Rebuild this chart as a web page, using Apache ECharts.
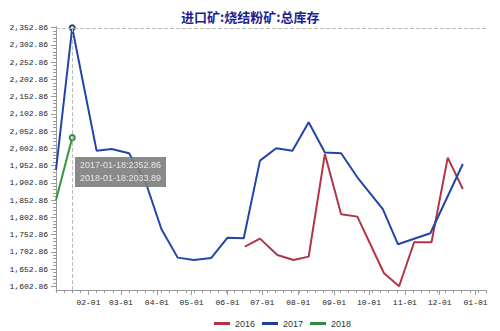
<!DOCTYPE html>
<html>
<head>
<meta charset="utf-8">
<script src="https://cdn.jsdelivr.net/npm/echarts@6/dist/echarts.min.js"></script>
<style>html,body{margin:0;padding:0;background:#fff}#c{width:500px;height:331px}</style>
</head>
<body>
<div id="c"></div>
<script>
const TITLE = '进口矿:烧结粉矿:总库存';
const YEARS = ['2016', '2017', '2018'];
const COLORS = ['#b23448', '#1f3f98', '#2e8b3a'];

const DATES_2016 = ['06-16','06-29','07-14','07-28','08-10','08-24','09-07','09-21','10-14','10-27','11-09','11-24','12-08','12-21'];
const VALUES_2016 = [1717.8,1741.0,1693.7,1679.2,1688.8,1986.6,1811.8,1804.8,1640.7,1602.9,1730.5,1730.5,1975.9,1885.1];

const DATES_2017 = ['01-04','01-18','02-08','02-21','03-08','03-22','04-05','04-19','05-03','05-18','06-01','06-15','06-29','07-13','07-27','08-10','08-24','09-07','09-22','10-13','10-26','11-23','12-21'];
const VALUES_2017 = [1940.2,2352.86,1996.2,2001.1,1988.6,1908.3,1768.2,1685.9,1679.2,1685.0,1743.9,1742.2,1967.2,2003.2,1996.2,2078.5,1991.0,1988.6,1914.0,1826.3,1724.8,1756.7,1957.6];

const DATES_2018 = ['01-04','01-18'];
const VALUES_2018 = [1853.2, 2033.89];

const Y_TICK_LABELS = [1602.86,1652.86,1702.86,1752.86,1802.86,1852.86,1902.86,1952.86,2002.86,2052.86,2102.86,2152.86,2202.86,2252.86,2302.86,2352.86];
const X_TICK_LABELS = ['2017-02-01','2017-03-01','2017-04-01','2017-05-01','2017-06-01','2017-07-01','2017-08-01','2017-09-01','2017-10-01','2017-11-01','2017-12-01','2018-01-01'];

const BASE_YEAR = 2017;
const X_MIN = '2017-01-04';
const X_MAX = '2018-01-10';
const Y_MIN = 1592;
const Y_MAX = 2356;

function ts(s) { const p = s.split('-').map(Number); return Date.UTC(p[0], p[1] - 1, p[2]); }
function build(year, dates, values) {
  return dates.map((d, i) => [ts(BASE_YEAR + '-' + d), values[i], year + '-' + d]);
}
const SERIES_DATA = [
  build(YEARS[0], DATES_2016, VALUES_2016),
  build(YEARS[1], DATES_2017, VALUES_2017),
  build(YEARS[2], DATES_2018, VALUES_2018)
];

const xMin = ts(X_MIN), xMax = ts(X_MAX);
const monthTicks = X_TICK_LABELS.map(ts);
const weekTicks = [];
for (let t = xMin; t <= xMax; t += 7 * 86400000) weekTicks.push(t);
const yMinor = [];
for (let v = Y_TICK_LABELS[0]; v <= Y_MAX; v += 10) yMinor.push(+v.toFixed(2));

const chart = echarts.init(document.getElementById('c'), null, { renderer: 'svg' });
const fmtY = v => v.toLocaleString('en-US', { minimumFractionDigits: 2, maximumFractionDigits: 2 });
const pad = n => (n < 10 ? '0' : '') + n;

chart.setOption({
  animation: false,
  backgroundColor: '#fff',
  title: {
    text: TITLE, left: 176, top: 5,
    textStyle: { fontFamily: 'Noto Sans CJK SC', fontSize: 13, fontWeight: 'bold', color: '#1f1f8f' }
  },
  legend: {
    data: YEARS, left: 209, top: 314, icon: 'rect', itemWidth: 16, itemHeight: 3, itemGap: 7,
    textStyle: { fontFamily: 'Liberation Sans', fontSize: 9, color: '#333' }
  },
  grid: { left: 56, right: 14, top: 26.6, bottom: 41 },
  tooltip: {
    trigger: 'axis', alwaysShowContent: true, transitionDuration: 0,
    position: [75, 157],
    backgroundColor: 'rgba(125,125,125,0.9)', borderWidth: 0, padding: [2, 5],
    extraCssText: 'box-shadow:none;border-radius:0;',
    textStyle: { color: '#e6e6e6', fontSize: 9, fontFamily: 'Liberation Sans', lineHeight: 13 },
    axisPointer: {
      type: 'cross',
      label: { show: false },
      lineStyle: { color: '#bbb', type: 'dashed', width: 1 },
      crossStyle: { color: '#bbb', type: 'dashed', width: 1 }
    },
    formatter: params => params.filter(p => p.seriesIndex < 3).map(p => p.value[2] + ':' + p.value[1]).join('<br/>')
  },
  xAxis: [{
    type: 'value', min: xMin, max: xMax,
    axisLine: { lineStyle: { color: '#999', width: 1 } },
    axisTick: { customValues: monthTicks, length: 5, lineStyle: { color: '#999' } },
    axisLabel: {
      customValues: monthTicks, margin: 8,
      formatter: v => { const d = new Date(v); return pad(d.getUTCMonth() + 1) + '-' + pad(d.getUTCDate()); },
      fontFamily: 'Liberation Mono', fontSize: 8, color: '#222'
    },
    splitLine: { show: false }
  }, {
    type: 'value', min: xMin, max: xMax, position: 'bottom',
    axisLine: { show: false },
    axisTick: { customValues: weekTicks, length: 3, lineStyle: { color: '#999' } },
    axisLabel: { show: false }, splitLine: { show: false },
    axisPointer: { show: false }
  }],
  yAxis: [{
    type: 'value', min: Y_MIN, max: Y_MAX,
    axisLine: { show: true, lineStyle: { color: '#999', width: 1 } },
    axisTick: { show: true, customValues: Y_TICK_LABELS, length: 5, lineStyle: { color: '#999' } },
    axisLabel: { customValues: Y_TICK_LABELS, formatter: fmtY, margin: 8, fontFamily: 'Liberation Mono', fontSize: 8, color: '#222' },
    splitLine: { show: false }
  }, {
    type: 'value', min: Y_MIN, max: Y_MAX, position: 'left',
    axisLine: { show: false },
    axisTick: { show: true, customValues: yMinor, length: 3, lineStyle: { color: '#999' } },
    axisLabel: { show: false }, splitLine: { show: false },
    axisPointer: { show: false }
  }],
  series: YEARS.map((y, i) => ({
    name: y, type: 'line', data: SERIES_DATA[i], xAxisIndex: 0, yAxisIndex: 0,
    showSymbol: false, symbol: 'emptyCircle', symbolSize: 5,
    lineStyle: { color: COLORS[i], width: 2 }, itemStyle: { color: COLORS[i] },
    emphasis: { disabled: false, scale: false }
  }))
});
chart.dispatchAction({ type: 'showTip', x: 72, y: 28 });
</script>
</body>
</html>
